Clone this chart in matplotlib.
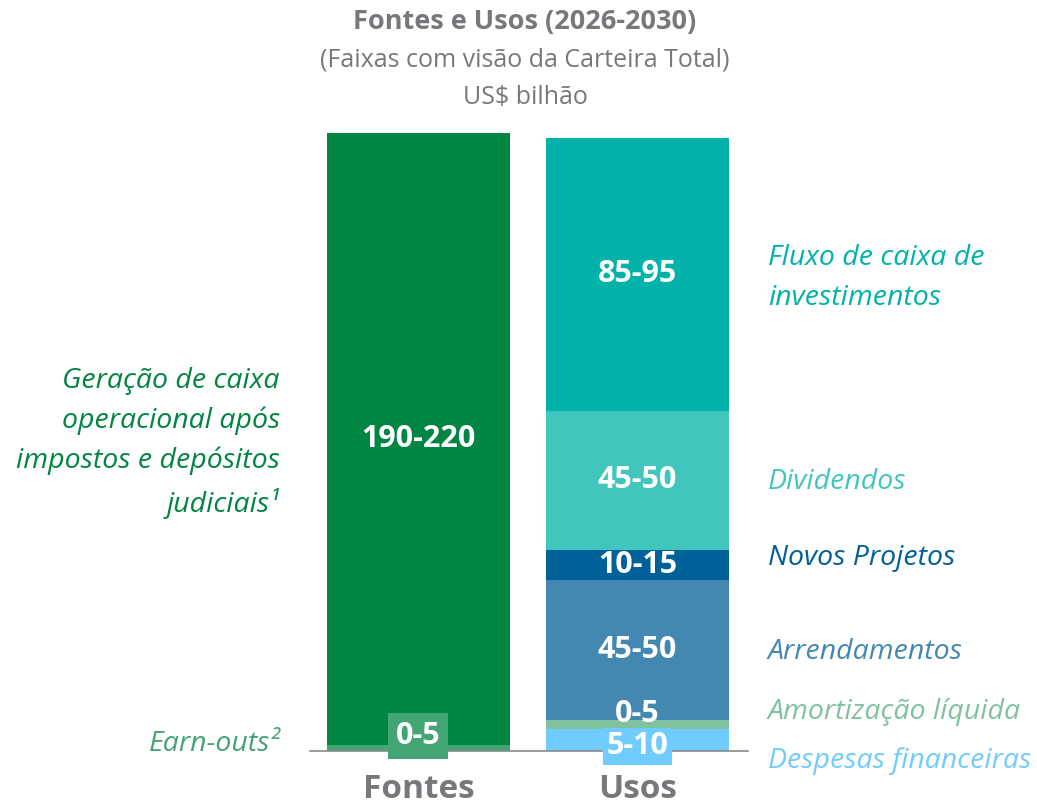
import matplotlib
matplotlib.use("Agg")
import matplotlib.pyplot as plt

plt.rcParams['font.family'] = ['Open Sans', 'DejaVu Sans']

# ---- data ----
categories = ["Fontes", "Usos"]

fontes_labels = ["Earn-outs²", "Geração de caixa\noperacional após\nimpostos e depósitos\njudiciais¹"]
fontes_values = [2, 204]
fontes_ranges = ["0-5", "190-220"]

usos_labels = ["Despesas financeiras", "Amortização líquida", "Arrendamentos",
               "Novos Projetos", "Dividendos", "Fluxo de caixa de\ninvestimentos"]
usos_values = [7.5, 3, 46.5, 10, 46.5, 91]
usos_ranges = ["5-10", "0-5", "45-50", "10-15", "45-50", "85-95"]

# ---- styles ----
fontes_colors = ["#44a574", "#008542"]
usos_colors = ["#70cbff", "#80c29d", "#4288b1", "#006098", "#40c6bd", "#00b2a9"]
usos_text_colors = ["#70cbff", "#80c29d", "#4288b1", "#006098", "#40c6bd", "#00b2a9"]
grey = "#76787b"

fig = plt.figure(figsize=(10.37, 8.07), dpi=100)
ax = fig.add_axes([310/1037, (807-751)/807, 438/1037, 631/807])
ax.set_xlim(-0.495, 1.505)
ax.set_ylim(0, 631/3)
ax.axis("off")

bw = 0.836
# Fontes stack
bottom = 0
f_bottoms = []
for v, c in zip(fontes_values, fontes_colors):
    ax.bar(0, v, bw, bottom=bottom, color=c, linewidth=0)
    f_bottoms.append(bottom)
    bottom += v
# Usos stack
bottom = 0
u_bottoms = []
for v, c in zip(usos_values, usos_colors):
    ax.bar(1, v, bw, bottom=bottom, color=c, linewidth=0)
    u_bottoms.append(bottom)
    bottom += v

# baseline
ax.plot([-0.495, 1.505], [0, 0], color="#8a8a8a", lw=1.2, clip_on=False, zorder=3)

numfs = 22
# Fontes values
ax.text(0, f_bottoms[1] + fontes_values[1] / 2, fontes_ranges[1], ha="center", va="center",
        color="white", fontsize=numfs, fontweight="bold")
ax.text(0, 5.0, fontes_ranges[0], ha="center", va="center", color="white",
        fontsize=numfs, fontweight="bold", zorder=5,
        bbox=dict(boxstyle="square,pad=0.25", fc=fontes_colors[0], ec="none"))
# Usos values
for i in range(2, 6):
    ax.text(1, u_bottoms[i] + usos_values[i] / 2, usos_ranges[i], ha="center", va="center",
            color="white", fontsize=numfs, fontweight="bold")
ax.text(1, 12.3, usos_ranges[1], ha="center", va="center", color="white",
        fontsize=numfs, fontweight="bold", zorder=5)
ax.text(1, 1.6, usos_ranges[0], ha="center", va="center", color="white",
        fontsize=numfs, fontweight="bold", zorder=5,
        bbox=dict(boxstyle="square,pad=0.12", fc=usos_colors[0], ec="none"))

# category labels
for i, cat in enumerate(categories):
    ax.text(i, -13, cat, ha="center", va="center", color=grey, fontsize=24, fontweight="bold",
            clip_on=False)

# right labels (Usos)
label_y_px = [761, 712, 652, 558, 482, 278]
for lab, c, ypx in zip(usos_labels, usos_text_colors, label_y_px):
    fig.text(768/1037, 1 - ypx/807, lab, ha="left", va="center", color=c, fontsize=20.5,
             fontstyle="italic", linespacing=1.55)

# left labels (Fontes)
fig.text(280/1037, 1 - 443/807, fontes_labels[1], ha="right", va="center",
         color=fontes_colors[1], fontsize=20.5, fontstyle="italic", linespacing=1.55)
fig.text(280/1037, 1 - 744/807, fontes_labels[0], ha="right", va="center",
         color=fontes_colors[0], fontsize=20.5, fontstyle="italic")

# titles
fig.text(525/1037, 1 - 22/807, "Fontes e Usos (2026-2030)", ha="center", va="center",
         color=grey, fontsize=19.5, fontweight="bold")
fig.text(525/1037, 1 - 60/807, "(Faixas com visão da Carteira Total)", ha="center", va="center",
         color=grey, fontsize=18)
fig.text(525/1037, 1 - 97/807, "US$ bilhão", ha="center", va="center",
         color=grey, fontsize=18)

fig.savefig("out.png", dpi=100)
